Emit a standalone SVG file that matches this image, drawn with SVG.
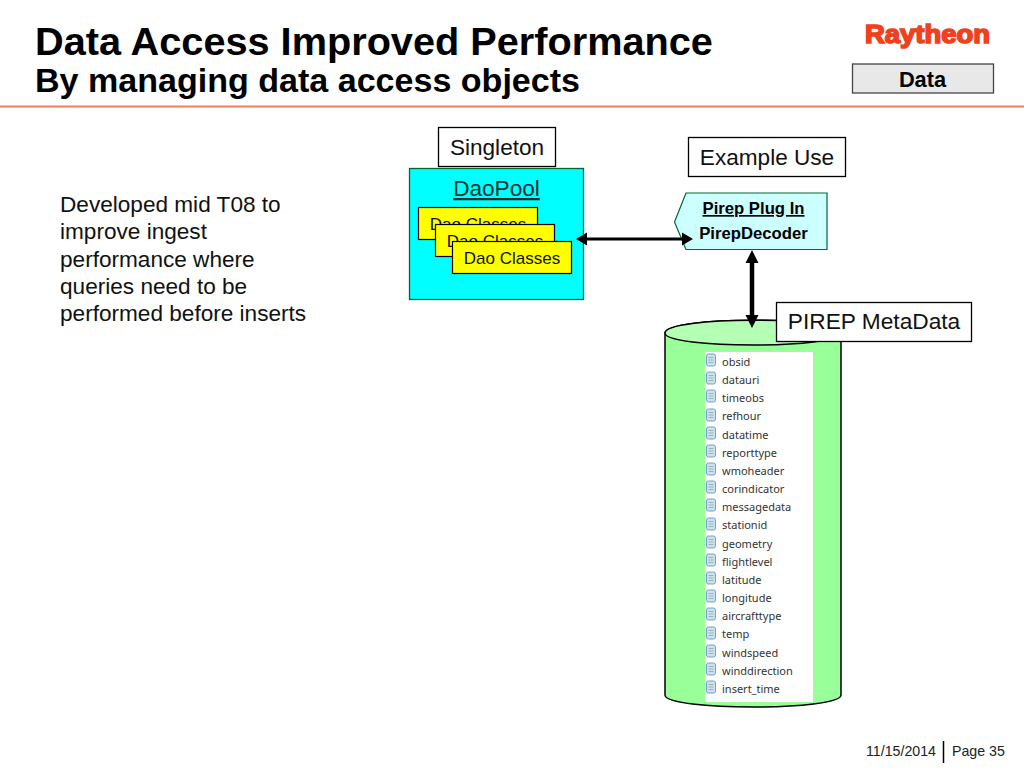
<svg xmlns="http://www.w3.org/2000/svg" width="1024" height="768" viewBox="0 0 1024 768">
<style>
text{font-family:"Liberation Sans",Arial,sans-serif;fill:#000}
.lbl{fill:#fff;stroke:#000;stroke-width:1.3}
.dao{fill:#ffff00;stroke:#000;stroke-width:1.2}
.daot{font-size:17px;text-anchor:middle;fill:#111}
.c{font-size:11px;fill:#333;font-family:"Noto Sans",sans-serif}
.ic{fill:#cfe0ee;stroke:#6fa3d0;stroke-width:1}
.il{stroke:#8aa;stroke-width:.8}
.conn{stroke:#000;fill:none}
</style>
<defs>
<g id="icon"><rect class="ic" x="-4.5" y="-6" width="9" height="12" rx="2"/><path class="il" d="M-2.5-2.500H2.500M-2.500 0H2.500M-2.500 2.500H2.500"/></g>
</defs>
<rect width="1024" height="768" fill="#fff"/>
<g id="header">
<text x="35" y="55" font-size="39.700" font-weight="700">Data Access Improved Performance</text>
<text x="35" y="92" font-size="34" font-weight="700" textLength="545" lengthAdjust="spacingAndGlyphs">By managing data access objects</text>
<text x="865" y="43" font-size="25" font-weight="700" style="fill:#f0401c;stroke:#f0401c;stroke-width:1.600" textLength="125" lengthAdjust="spacingAndGlyphs">Raytheon</text>
<line x1="0" y1="106.500" x2="1024" y2="106.500" stroke="#f0805c" stroke-width="2"/>
</g>
<g id="data-tag">
<rect x="852.500" y="64" width="141" height="29" fill="#e8e8e8" stroke="#444" stroke-width="1.300"/>
<text x="922.500" y="87" font-size="21.800" font-weight="700" text-anchor="middle">Data</text>
</g>
<g id="intro">
<text font-size="22.600" style="fill:#111"><tspan x="60" y="212">Developed mid T08 to</tspan><tspan x="60" y="239">improve ingest</tspan><tspan x="60" y="267">performance where</tspan><tspan x="60" y="294">queries need to be</tspan><tspan x="60" y="321">performed before inserts</tspan></text>
</g>
<g id="singleton">
<rect class="lbl" x="438.500" y="127.500" width="117" height="39"/>
<text x="497" y="155" font-size="22.600" text-anchor="middle" style="fill:#111">Singleton</text>
</g>
<g id="daopool">
<rect x="409.500" y="168.500" width="174" height="131" fill="#00ffff" stroke="#063" stroke-width="1.300"/>
<text x="496.500" y="196" font-size="22.600" text-anchor="middle" text-decoration="underline" style="fill:#033">DaoPool</text>
</g>
<g id="dao1"><rect class="dao" x="418.500" y="207.500" width="119" height="32"/><text class="daot" x="478" y="230">Dao Classes</text></g>
<g id="dao2"><rect class="dao" x="435.500" y="224.500" width="119" height="32"/><text class="daot" x="495" y="247">Dao Classes</text></g>
<g id="dao3"><rect class="dao" x="452.500" y="241.500" width="119" height="32"/><text class="daot" x="512" y="264">Dao Classes</text></g>
<g id="example-use">
<rect class="lbl" x="688.500" y="137.500" width="157" height="39"/>
<text x="767" y="165" font-size="22.600" text-anchor="middle" style="fill:#111">Example Use</text>
</g>
<g id="pirep-plugin">
<path d="M686 193H827V249.500H686L674.500 222Z" fill="#ccffff" stroke="#063" stroke-width="1.200"/>
<text x="753.500" y="214" font-size="16.700" font-weight="700" text-anchor="middle" text-decoration="underline">Pirep Plug In</text>
<text x="753.500" y="239" font-size="16.700" font-weight="700" text-anchor="middle">PirepDecoder</text>
</g>
<g id="pirep-db">
<path d="M665 333C665 316 841 316 841 333V695C841 711 665 711 665 695Z" fill="#99ff99" stroke="#000" stroke-width="1.500"/>
<path d="M665 333C665 316 841 316 841 333C841 349 665 349 665 333Z" fill="#b5ffb5" stroke="#000" stroke-width="1.500"/>
<rect x="705" y="352" width="108" height="350" fill="#fff"/>
<g>
<use href="#icon" x="711" y="360"/><text class="c" x="722" y="365.500">obsid</text>
<use href="#icon" x="711" y="378"/><text class="c" x="722" y="384">datauri</text>
<use href="#icon" x="711" y="396"/><text class="c" x="722" y="402">timeobs</text>
<use href="#icon" x="711" y="415"/><text class="c" x="722" y="420">refhour</text>
<use href="#icon" x="711" y="433"/><text class="c" x="722" y="438.500">datatime</text>
<use href="#icon" x="711" y="451"/><text class="c" x="722" y="456.500">reporttype</text>
<use href="#icon" x="711" y="469"/><text class="c" x="722" y="475">wmoheader</text>
<use href="#icon" x="711" y="487"/><text class="c" x="722" y="493">corindicator</text>
<use href="#icon" x="711" y="505"/><text class="c" x="722" y="511">messagedata</text>
<use href="#icon" x="711" y="524"/><text class="c" x="722" y="529">stationid</text>
<use href="#icon" x="711" y="542"/><text class="c" x="722" y="547.500">geometry</text>
<use href="#icon" x="711" y="560"/><text class="c" x="722" y="565.500">flightlevel</text>
<use href="#icon" x="711" y="578"/><text class="c" x="722" y="584">latitude</text>
<use href="#icon" x="711" y="596"/><text class="c" x="722" y="602">longitude</text>
<use href="#icon" x="711" y="614"/><text class="c" x="722" y="620">aircrafttype</text>
<use href="#icon" x="711" y="633"/><text class="c" x="722" y="638">temp</text>
<use href="#icon" x="711" y="651"/><text class="c" x="722" y="656.500">windspeed</text>
<use href="#icon" x="711" y="669"/><text class="c" x="722" y="675">winddirection</text>
<use href="#icon" x="711" y="687"/><text class="c" x="722" y="693">insert_time</text>
</g>
</g>
<g id="pirep-metadata">
<rect class="lbl" x="776.500" y="302.500" width="195" height="39"/>
<text x="874" y="329" font-size="22.700" text-anchor="middle" style="fill:#111">PIREP MetaData</text>
</g>
<g id="connectors">
<path class="conn" stroke-width="3" d="M585 239H684"/>
<path d="M576 239L587 232.500V245.500ZM693 239L682 232.500V245.500Z"/>
<path class="conn" stroke-width="4.500" d="M752 260V318"/>
<path d="M752 250L745.500 263H758.500ZM752 328L745.500 315H758.500Z"/>
</g>
<g id="footer">
<text x="866" y="756" font-size="14.200" style="fill:#222">11/15/2014</text>
<line x1="943.500" y1="741" x2="943.500" y2="763" stroke="#000" stroke-width="1.500"/>
<text x="952" y="756" font-size="14.200" style="fill:#222">Page 35</text>
</g>
</svg>
